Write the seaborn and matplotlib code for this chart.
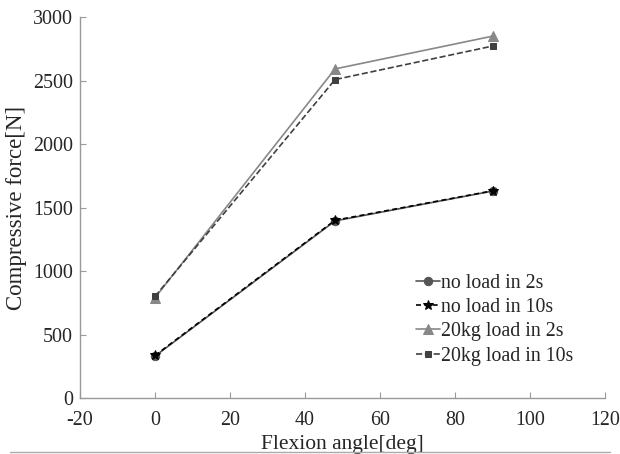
import matplotlib
matplotlib.use("Agg")
import matplotlib.pyplot as plt
import seaborn as sns
import pandas as pd
from matplotlib.lines import Line2D

angles = [0, 48, 90]
no_load_2s = [330, 1395, 1630]
no_load_10s = [335, 1400, 1632]
load20_2s = [790, 2592, 2850]
load20_10s = [800, 2508, 2772]
series_names = ["no load in 2s", "no load in 10s", "20kg load in 2s", "20kg load in 10s"]
x_ticks = [-20, 0, 20, 40, 60, 80, 100, 120]
y_ticks = [0, 500, 1000, 1500, 2000, 2500, 3000]

sns.set_style("white")
plt.rcParams['font.family'] = ['Liberation Serif', 'DejaVu Serif']

rows = []
for name, vals in zip(series_names, [no_load_2s, no_load_10s, load20_2s, load20_10s]):
    for a, v in zip(angles, vals):
        rows.append({"angle": a, "force": v, "series": name})
df = pd.DataFrame(rows)

fig = plt.figure(figsize=(6.2, 4.54), dpi=100)
ax = fig.add_axes([0.129, 0.1233, 0.847, 0.839])

styles = {
    "no load in 2s": dict(color="#555555", marker="o", ls="-", ms=6),
    "no load in 10s": dict(color="#000000", marker="*", ls=(0, (3, 2)), ms=7),
    "20kg load in 2s": dict(color="#888888", marker="^", ls="-", ms=7),
    "20kg load in 10s": dict(color="#404040", marker="s", ls="--", ms=5),
}
for name in series_names:
    st = styles[name]
    sub = df[df.series == name]
    sns.lineplot(data=sub, x="angle", y="force", ax=ax, color=st["color"],
                 marker=st["marker"], linestyle=st["ls"], markersize=st["ms"],
                 markeredgecolor=st["color"], linewidth=1.2, label=name)

ax.set_xlim(-20, 120)
ax.set_ylim(0, 3000)
ax.set_xticks(x_ticks)
ax.set_yticks(y_ticks)
ax.set_xticklabels([str(t) for t in x_ticks])
ax.set_xlabel("Flexion angle[deg]", fontsize=15.5, labelpad=4)
ax.set_ylabel("Compressive force[N]", fontsize=16.5, labelpad=4)
ax.tick_params(axis="both", labelsize=14.4, direction="in", length=4, color="#999999", width=0.8,
               bottom=True, left=True)
ax.tick_params(axis="x", pad=9)
ax.tick_params(axis="y", pad=5)
for s in ["top", "right"]:
    ax.spines[s].set_visible(False)
for s in ["left", "bottom"]:
    ax.spines[s].set_color("#999999")
    ax.spines[s].set_linewidth(1.0)

leg = ax.legend(loc="upper left", bbox_to_anchor=(0.613, 0.362), frameon=False, fontsize=14.3,
                handlelength=1.2, handletextpad=0.05, borderpad=0.2, labelspacing=0.26)

fig.add_artist(Line2D([0.016, 0.984], [0.005, 0.005], color="#aaaaaa", lw=1.0,
                      transform=fig.transFigure))

fig.savefig("out.png", dpi=100)
